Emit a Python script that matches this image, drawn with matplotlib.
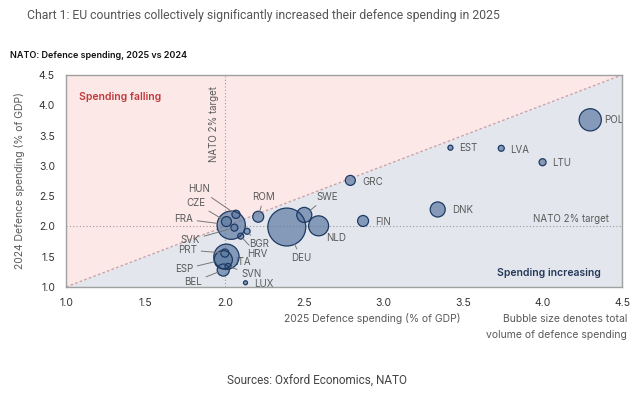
import matplotlib
matplotlib.use("Agg")
import matplotlib.pyplot as plt
from matplotlib import font_manager
import numpy as np

# ---- data ----
countries = ["DEU", "FRA", "ITA", "POL", "NLD", "ESP", "SWE", "DNK", "BEL", "ROM",
             "FIN", "GRC", "CZE", "HUN", "PRT", "SVK", "LTU", "BGR", "HRV", "SVN",
             "LVA", "EST", "LUX"]
spend_2025 = [2.39, 2.04, 2.01, 4.30, 2.59, 1.99, 2.50, 3.34, 1.99, 2.21,
              2.87, 2.79, 2.01, 2.07, 2.00, 2.06, 4.00, 2.14, 2.10, 2.02,
              3.74, 3.42, 2.13]
spend_2024 = [1.99, 2.02, 1.50, 3.76, 2.01, 1.45, 2.19, 2.28, 1.28, 2.16,
              2.09, 2.76, 2.08, 2.20, 1.56, 1.98, 3.06, 1.92, 1.84, 1.34,
              3.29, 3.30, 1.07]
# total volume of defence spending (relative, USD bn est.)
volume = [108, 60, 48, 37, 30, 25, 17, 17, 11, 9,
          9, 7.5, 7.5, 5, 5, 3.7, 3.7, 2.7, 2.7, 2.7,
          2.7, 1.9, 1.2]
x_ticks = [1.0, 1.5, 2.0, 2.5, 3.0, 3.5, 4.0, 4.5]
y_ticks = [1.0, 1.5, 2.0, 2.5, 3.0, 3.5, 4.0, 4.5]
nato_target = 2.0

# label layout: (text x, text y, ha, leader line)
label_pos = {
    "POL": (4.39, 3.757, "left", False),
    "EST": (3.474, 3.295, "left", False),
    "LVA": (3.795, 3.262, "left", False),
    "LTU": (4.059, 3.047, "left", False),
    "GRC": (2.863, 2.734, "left", False),
    "DNK": (3.430, 2.271, "left", False),
    "FIN": (2.945, 2.073, "left", False),
    "NLD": (2.637, 1.809, "left", False),
    "SWE": (2.574, 2.486, "left", True),
    "DEU": (2.479, 1.479, "center", True),
    "ROM": (2.246, 2.486, "center", True),
    "HUN": (1.906, 2.618, "right", True),
    "CZE": (1.875, 2.387, "right", True),
    "FRA": (1.800, 2.123, "right", True),
    "SVK": (1.844, 1.776, "right", True),
    "BGR": (2.150, 1.710, "left", True),
    "HRV": (2.139, 1.545, "left", True),
    "PRT": (1.825, 1.611, "right", True),
    "ITA": (2.065, 1.413, "left", False),
    "ESP": (1.800, 1.297, "right", True),
    "SVN": (2.102, 1.215, "left", True),
    "BEL": (1.856, 1.083, "right", True),
    "LUX": (2.183, 1.050, "left", False),
}

W, H = 635, 412
fig = plt.figure(figsize=(W / 100, H / 100), dpi=100)
fig.patch.set_facecolor("white")
ax = fig.add_axes([66 / W, 1 - 287 / H, (622 - 66) / W, (287 - 75) / H])

FONT = "Inter"
grey_txt = "#5a5a5a"

xmin, xmax = x_ticks[0], x_ticks[-1]
ymin, ymax = y_ticks[0], y_ticks[-1]
ax.set_xlim(xmin, xmax)
ax.set_ylim(ymin, ymax)

xx = np.array([xmin, xmax])
ax.fill_between(xx, xx, ymax, color="#fde8e8", zorder=0, lw=0)
ax.fill_between(xx, ymin, xx, color="#e3e7ed", zorder=0, lw=0)
ax.plot(xx, xx, ls=(0, (2, 1.5)), color="#c4a6ae", lw=1.0, zorder=1)
ax.axvline(nato_target, ls=(0, (1, 2)), color="#9a9a9a", lw=0.8, zorder=1)
ax.axhline(nato_target, ls=(0, (1, 2)), color="#9a9a9a", lw=0.8, zorder=1)

# bubble sizes: area ~ volume
sizes = np.array(volume) * 6.9
order = np.argsort(-np.array(volume))
for rank, i in enumerate(order):
    ax.scatter(spend_2025[i], spend_2024[i], s=sizes[i], facecolor="#5f7ca4",
               alpha=0.72, edgecolor="none", zorder=3 + rank * 0.01)
    ax.scatter(spend_2025[i], spend_2024[i], s=sizes[i], facecolor="none",
               edgecolor="#1e3a63", lw=0.9, zorder=3.5)

# labels
for i, c in enumerate(countries):
    tx, ty, ha, line = label_pos[c]
    z = 2.5 if c == "ITA" else 4
    if line:
        r = np.sqrt(sizes[i]) / 2
        ax.annotate(c, xy=(spend_2025[i], spend_2024[i]), xytext=(tx, ty),
                    ha=ha, va="center", fontsize=7, color=grey_txt, family=FONT,
                    zorder=z,
                    arrowprops=dict(arrowstyle="-", color="#777777", lw=0.7,
                                    shrinkA=1, shrinkB=r, zorder=2.8))
    else:
        ax.text(tx, ty, c, ha=ha, va="center", fontsize=7, color=grey_txt,
                family=FONT, zorder=z, clip_on=True)

ax.text(1.08, 4.14, "Spending falling", color="#c0393b", fontsize=7.5,
        fontweight="semibold", family=FONT, va="center", ha="left", zorder=5)
ax.text(4.37, 1.23, "Spending increasing", color="#25385a", fontsize=7.5,
        fontweight="semibold", family=FONT, va="center", ha="right", zorder=5)
ax.text(1.93, 3.69, "NATO 2% target", rotation=90, color=grey_txt, fontsize=7,
        family=FONT, va="center", ha="center", zorder=5)
ax.text(4.42, 2.12, "NATO 2% target", color=grey_txt, fontsize=7,
        family=FONT, va="center", ha="right", zorder=5)

ax.set_xticks(x_ticks)
ax.set_yticks(y_ticks)
ax.set_xticklabels([f"{v:.1f}" for v in x_ticks], family=FONT, fontsize=7.5, color="#333333")
ax.set_yticklabels([f"{v:.1f}" for v in y_ticks], family=FONT, fontsize=7.5, color="#333333")
ax.tick_params(length=0, pad=8)
for sp in ax.spines.values():
    sp.set_color("#a0a0a0")
    sp.set_linewidth(1.0)
    sp.set_zorder(6)

ax.set_ylabel("2024 Defence spending (% of GDP)", family=FONT, fontsize=7.5,
              color=grey_txt, labelpad=10)
fig.text(372 / W, 1 - 319 / H, "2025 Defence spending (% of GDP)", family=FONT,
         fontsize=7.5, color=grey_txt, ha="center", va="center")
fig.text(627 / W, 1 - 319 / H, "Bubble size denotes total", family=FONT,
         fontsize=7.5, color=grey_txt, ha="right", va="center")
fig.text(627 / W, 1 - 335 / H, "volume of defence spending", family=FONT,
         fontsize=7.5, color=grey_txt, ha="right", va="center")

title = fig.text(27 / W, 1 - 16 / H,
                 "Chart 1: EU countries collectively significantly increased their defence spending in 2025",
                 family="Roboto", fontsize=10, color="#555555", ha="left", va="center")
# fit title to the reference width (~473 px)
renderer = fig.canvas.get_renderer()
w = title.get_window_extent(renderer).width
title.set_fontsize(10 * 473 / w)

fig.text(10 / W, 1 - 55 / H, "NATO: Defence spending, 2025 vs 2024", family=FONT,
         fontsize=6.5, fontweight="semibold", color="#111111", ha="left", va="center")
fig.text(317 / W, 1 - 380 / H, "Sources: Oxford Economics, NATO", family="Roboto",
         fontsize=8.5, color="#444444", ha="center", va="center")

fig.savefig("out.png", dpi=100)
